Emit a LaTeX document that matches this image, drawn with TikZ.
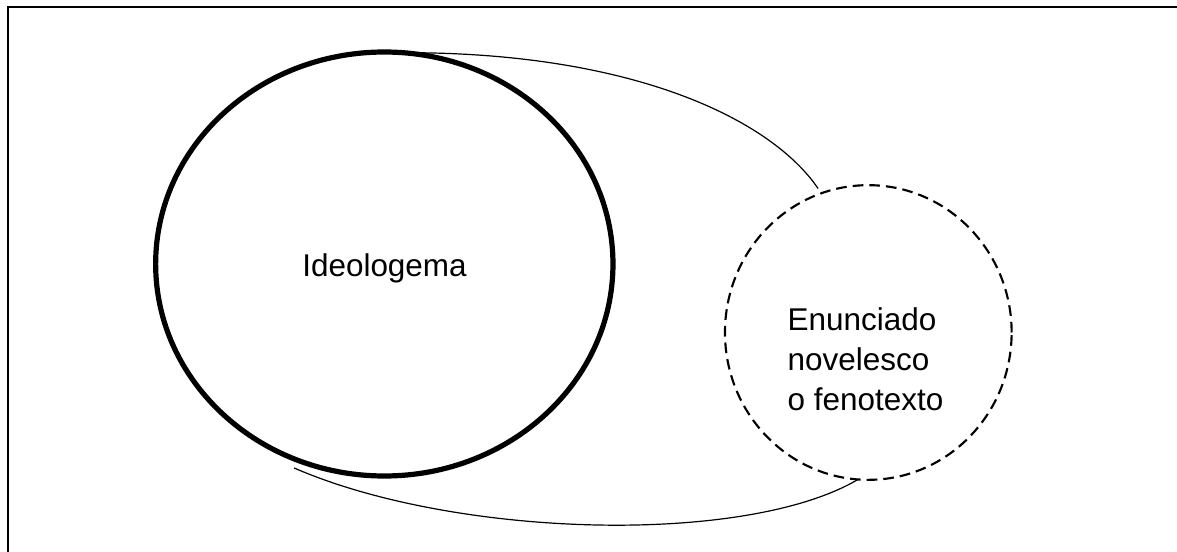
\documentclass[tikz,border=0pt]{standalone}
\usepackage{fontspec}
\setmainfont{Liberation Sans}
\usetikzlibrary{shapes.geometric}
\begin{document}
\begin{tikzpicture}[x=0.75pt,y=-0.75pt,
    ideobox/.style={ellipse,draw,line width=3.9pt,minimum width=343pt,minimum height=318pt,inner sep=0pt,outer sep=0pt},
    fenobox/.style={ellipse,draw,line width=1.6pt,dash pattern=on 8pt off 4.5pt,minimum width=215pt,minimum height=221pt,inner sep=0pt,outer sep=0pt},
    txt/.style={font=\fontsize{23.6pt}{30pt}\selectfont,align=left,inner sep=0pt},
    link/.style={line width=0.9pt}]
  \useasboundingbox (0,0) rectangle (1177,552);
  \draw[line width=1.5pt] (1177,7) -- (7.7,7) -- (7.7,552);
  \node[ideobox] (ideo) at (384.3,264) {};
  \node[txt] (ideotxt) at (384.5,268.5) {Ideologema};
  \node[fenobox] (enun) at (868.3,332.5) {};
  \node[txt] (enuntxt) at (865.5,359) {Enunciado\\novelesco\\o fenotexto};
  \draw[link] (ideo.85) .. controls (630,52) and (770,118) .. ([shift={(0,-6)}]enun.110);
  \draw[link] ([shift={(-3,8)}]ideo.246) .. controls (455,538) and (745,546) .. (enun.266);
\end{tikzpicture}
\end{document}
